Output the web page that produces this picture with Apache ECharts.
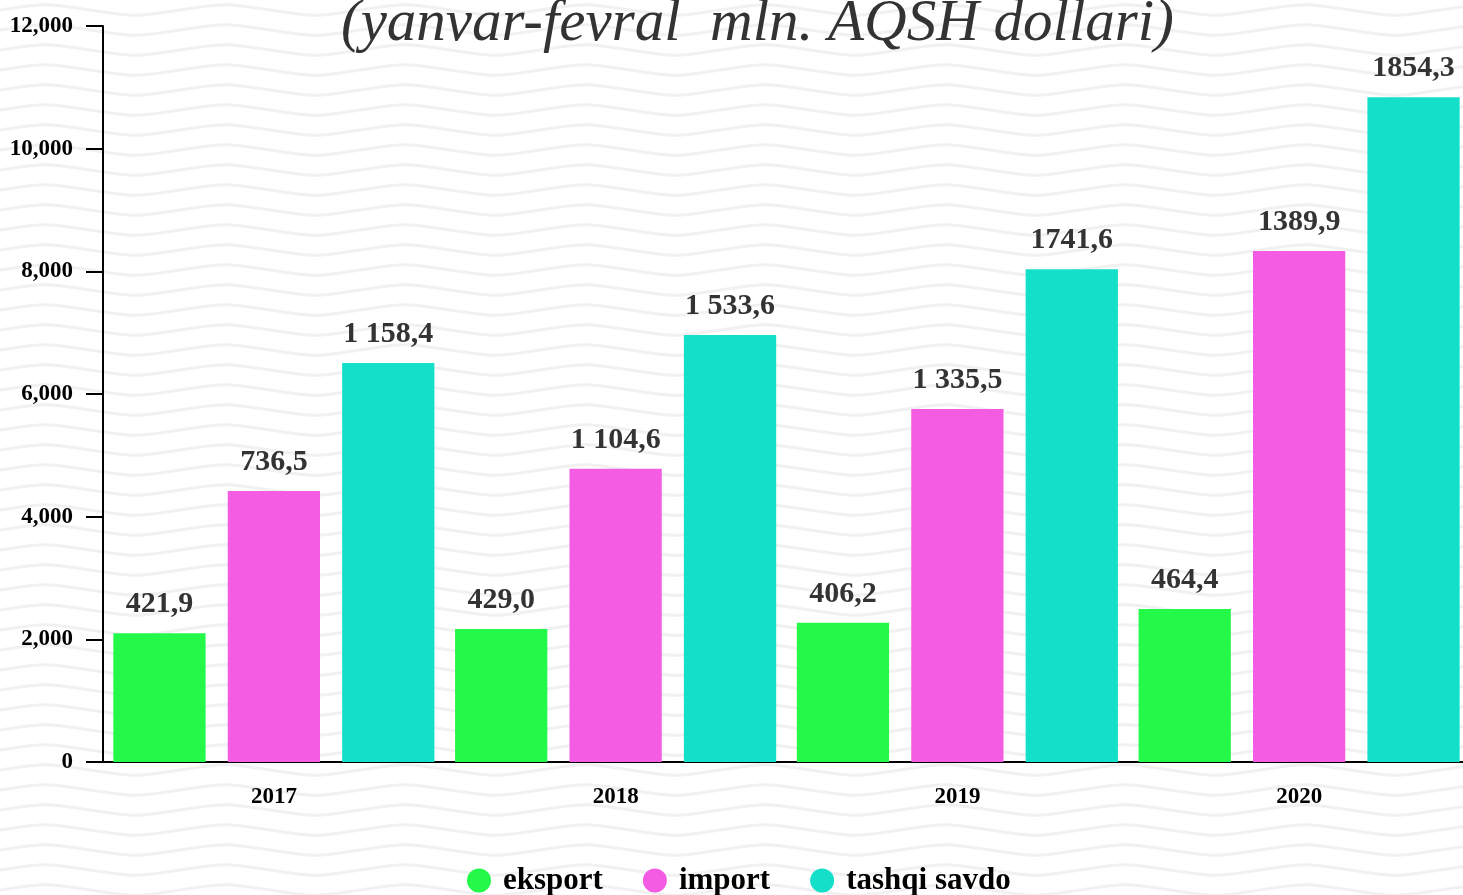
<!DOCTYPE html>
<html>
<head>
<meta charset="utf-8">
<script src="https://cdn.jsdelivr.net/npm/echarts@6/dist/echarts.min.js"></script>
<style>
    html, body { margin: 0; padding: 0; overflow: hidden; }
    body {
        width: 1463px; height: 895px;
        background-color: #ffffff;
        background-image: url("data:image/svg+xml;utf8,<svg xmlns='http://www.w3.org/2000/svg' width='180' height='20'><path d='M0 10 C45 3 45 3 90 10 C135 17 135 17 180 10' fill='none' stroke='%23f1f1f1' stroke-width='3'/></svg>");
        background-size: 180px 20px;
    }
    #chart { width: 1470px; height: 895px; }
</style>
</head>
<body>
<div id="chart"></div>
<script>
const years = ['2017', '2018', '2019', '2020'];
const seriesNames = ['eksport', 'import', 'tashqi savdo'];

// bar heights as drawn in the picture
const eksport = [2100, 2170, 2270, 2495];
const importV = [4420, 4780, 5755, 8330];
const tashqi = [6505, 6960, 8035, 10840];

// text written above the bars
const eksportLabels = ['421,9', '429,0', '406,2', '464,4'];
const importLabels = ['736,5', '1 104,6', '1 335,5', '1389,9'];
const tashqiLabels = ['1 158,4', '1 533,6', '1741,6', '1854,3'];

const colors = ['#24f94a', '#f45ce4', '#14e0ca'];
const serif = '"Liberation Serif", "DejaVu Serif", serif';

const chart = echarts.init(document.getElementById('chart'));

function makeSeries(name, values, labels, color) {
    return {
        name: name,
        type: 'bar',
        data: values,
        barWidth: '27%',
        barGap: '24%',
        itemStyle: { color: color },
        label: {
            show: true,
            position: 'top',
            distance: 14,
            formatter: function (p) { return labels[p.dataIndex]; },
            fontFamily: serif,
            fontWeight: 'bold',
            fontSize: 30,
            color: '#333333'
        }
    };
}

const option = {
    animation: false,
    backgroundColor: 'transparent',
    color: colors,
    title: {
        text: '(yanvar-fevral  mln. AQSH dollari)',
        left: 336,
        top: -10,
        textStyle: {
            fontFamily: serif,
            fontStyle: 'italic',
            fontWeight: 'normal',
            fontSize: 59,
            color: '#333333'
        }
    },
    legend: {
        data: seriesNames,
        left: 462,
        top: 860,
        icon: 'circle',
        itemWidth: 24,
        itemHeight: 24,
        itemGap: 40,
        textStyle: {
            fontFamily: serif,
            fontWeight: 'bold',
            fontSize: 31,
            color: '#000000',
            padding: [0, 0, 0, 7]
        }
    },
    grid: {
        left: 103,
        right: 0,
        top: 26,
        bottom: 133,
        containLabel: false,
        outerBoundsMode: 'none'
    },
    xAxis: {
        type: 'category',
        data: years,
        axisLine: { lineStyle: { color: '#000', width: 2 } },
        axisTick: { alignWithLabel: true, length: 17, lineStyle: { color: '#000', width: 2 } },
        axisLabel: {
            margin: 24,
            fontFamily: serif,
            fontWeight: 'bold',
            fontSize: 23,
            color: '#000'
        },
        splitLine: { show: false }
    },
    yAxis: {
        type: 'value',
        min: 0,
        max: 12000,
        interval: 2000,
        axisLine: { show: true, lineStyle: { color: '#000', width: 2 } },
        axisTick: { show: true, length: 17, lineStyle: { color: '#000', width: 2 } },
        axisLabel: {
            margin: 30,
            fontFamily: serif,
            fontWeight: 'bold',
            fontSize: 23,
            color: '#000',
            formatter: function (v) { return v.toLocaleString('en-US'); }
        },
        splitLine: { show: false }
    },
    series: [
        makeSeries(seriesNames[0], eksport, eksportLabels, colors[0]),
        makeSeries(seriesNames[1], importV, importLabels, colors[1]),
        makeSeries(seriesNames[2], tashqi, tashqiLabels, colors[2])
    ]
};

chart.setOption(option);
</script>
</body>
</html>
